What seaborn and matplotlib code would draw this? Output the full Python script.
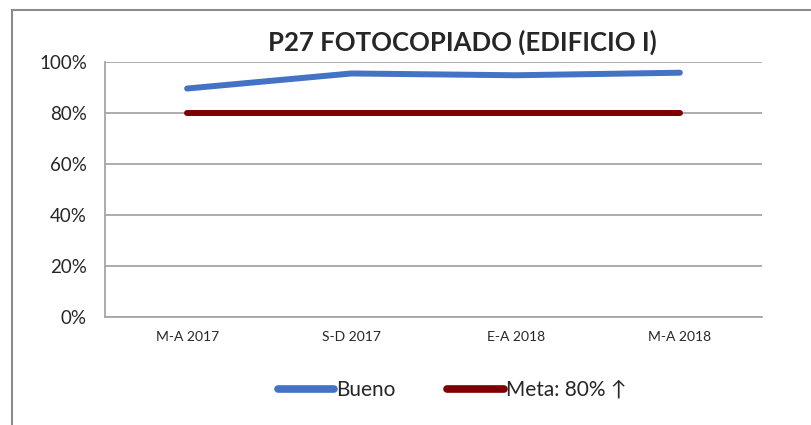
import pandas as pd
import numpy as np
import matplotlib
matplotlib.use("Agg")
import matplotlib.pyplot as plt
import seaborn as sns
from matplotlib.patches import Rectangle

# Data
periodos = ["M-A 2017", "S-D 2017", "E-A 2018", "M-A 2018"]
bueno = [0.896, 0.955, 0.948, 0.958]
meta = [0.80, 0.80, 0.80, 0.80]

data = pd.DataFrame({
    "Periodo": periodos * 2,
    "Valor": bueno + meta,
    "Serie": ["Bueno"] * 4 + ["Meta: 80% \u2191"] * 4})
data["x"] = list(range(len(periodos))) * 2

sns.set_style("white")
plt.rcParams['font.family'] = ['Lato', 'DejaVu Sans']

fig = plt.figure(figsize=(8.12, 4.25), dpi=100)
ax = fig.add_axes([105/812, 1 - 317/425, (762 - 105)/812, (317 - 62)/425])

# outer chart border
fig.patches.append(Rectangle((12/812, -0.1), 1.2, 1 - 10/425 + 0.1,
                             transform=fig.transFigure, fill=False,
                             edgecolor="#8c8c8c", linewidth=1.5))

sns.lineplot(data=data, x="x", y="Valor", hue="Serie",
             palette=["#4472c4", "#7f0000"], linewidth=4.3,
             solid_capstyle="round", ax=ax, legend=False)

ax.set_xlim(-0.5, len(periodos) - 0.5)
ax.set_ylim(0, 1)
ax.set_yticks(np.arange(0, 1.01, 0.2))
ax.set_yticklabels([f"{int(round(v*100))}%" for v in np.arange(0, 1.01, 0.2)], fontsize=13.5)
ax.yaxis.grid(True, color="#a6a6a6", linewidth=1.3)
ax.set_axisbelow(True)

# category labels between boundary ticks
ax.set_xticks(np.arange(-0.5, len(periodos), 1))
ax.set_xticklabels([])
ax.set_xticks(range(len(periodos)), minor=True)
ax.set_xticklabels(periodos, minor=True, fontsize=10)
ax.tick_params(axis="x", which="major", direction="out", length=5, color="#a6a6a6", width=1.3)
ax.tick_params(axis="x", which="minor", length=0, pad=10)
ax.tick_params(axis="y", direction="out", length=5, color="#a6a6a6", width=1.3, pad=8)

for s in ["top", "right"]:
    ax.spines[s].set_visible(False)
for s in ["left", "bottom"]:
    ax.spines[s].set_color("#a6a6a6")
    ax.spines[s].set_linewidth(1.3)

ax.set_xlabel("")
ax.set_ylabel("")
fig.text(462/812, 1 - 42/425, "P27 FOTOCOPIADO (EDIFICIO I)", ha="center", va="center",
         fontsize=18.5, fontweight="bold")

handles = [plt.Line2D([], [], color="#4472c4", linewidth=5.5, solid_capstyle="round"),
           plt.Line2D([], [], color="#7f0000", linewidth=5.5, solid_capstyle="round")]
fig.legend(handles, ["Bueno", "Meta: 80% \u2191"], loc="center", bbox_to_anchor=(452/812, 1 - 390/425),
           ncol=2, frameon=False, fontsize=15, handlelength=2.7, handletextpad=0.1, columnspacing=2.5)

plt.savefig("out.png", dpi=100)
